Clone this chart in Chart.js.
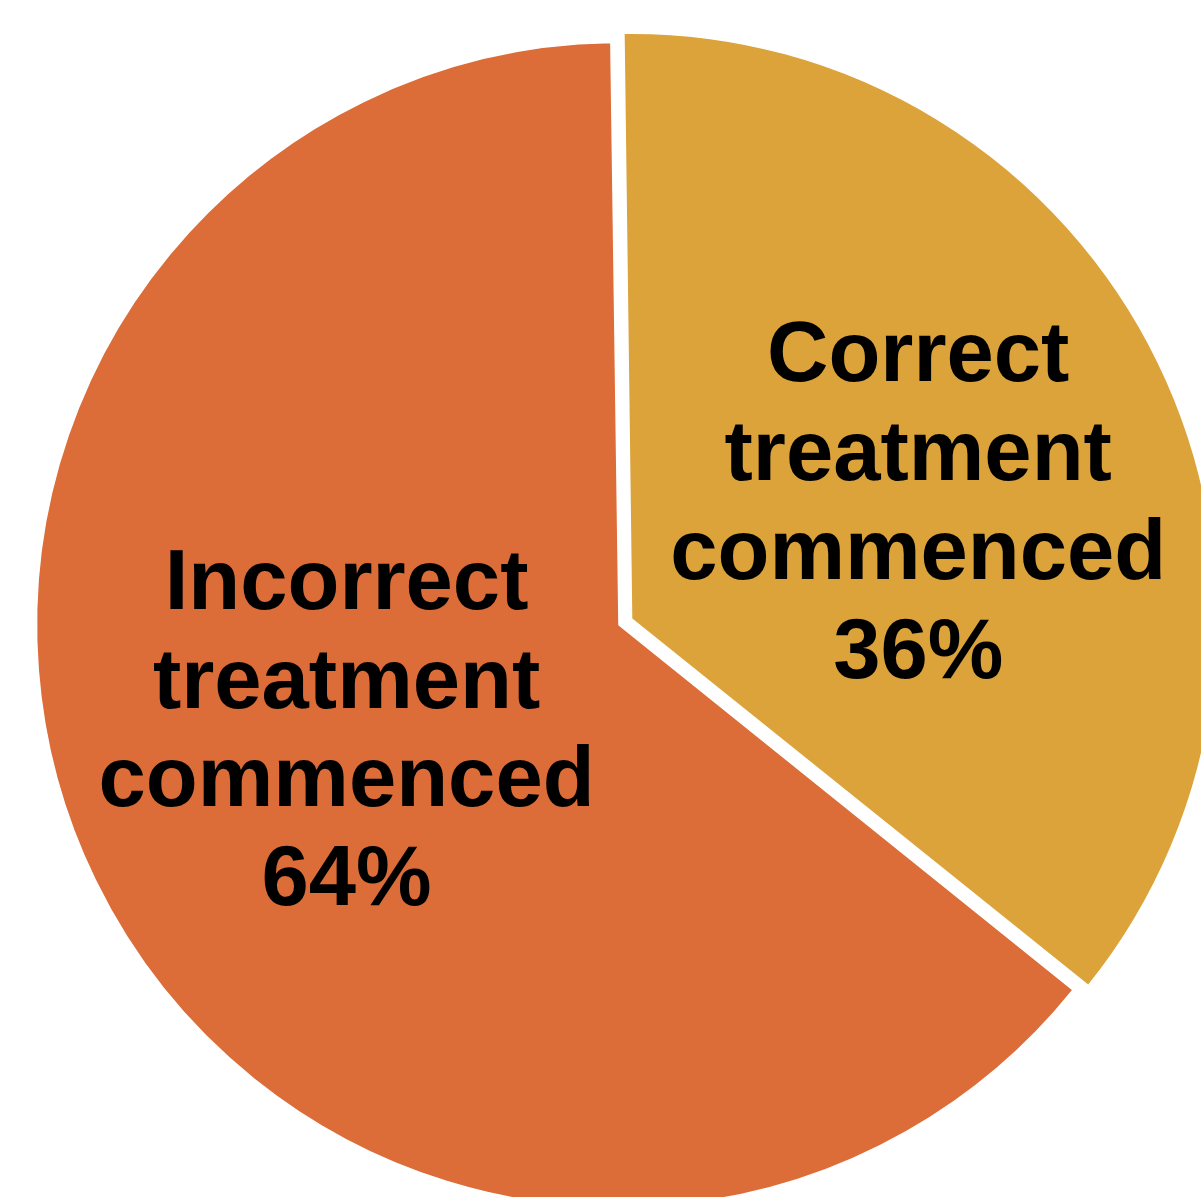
<!DOCTYPE html>
<html>
<head>
<meta charset="utf-8">
<script src="https://cdn.jsdelivr.net/npm/chart.js@4/dist/chart.umd.min.js"></script>
<style>
  html, body { margin:0; padding:0; background:#fff; width:1201px; height:1197px; overflow:hidden; position:relative; }
  #wrap { position:absolute; left:-6px; top:0px; width:1250px; height:1250px; }
</style>
</head>
<body>
<div id="wrap"><canvas id="c" width="1250" height="1250"></canvas></div>
<script>
const categories = ["Correct treatment commenced", "Incorrect treatment commenced"];
const labelLines = [["Correct", "treatment", "commenced"], ["Incorrect", "treatment", "commenced"]];
const values = [36, 64];
const colors = ["#DBA33A", "#DC6C38"];
const offsets = [56, 0];

const labelPlugin = {
  id: 'sliceLabels',
  afterDatasetsDraw(chart, args, opts) {
    const ctx = chart.ctx;
    const meta = chart.getDatasetMeta(0);
    const total = values.reduce((a, b) => a + b, 0);
    meta.data.forEach((arc, i) => {
      const p = arc.getProps(['x', 'y', 'startAngle', 'endAngle', 'outerRadius'], true);
      const half = (p.startAngle + p.endAngle) / 2;
      const shift = (offsets[i] || 0) / 4;
      const cx = p.x + Math.cos(half) * shift;
      const cy = p.y + Math.sin(half) * shift;
      const a = opts.anchors[i];
      const ang = half + a.dAngle * Math.PI / 180;
      const lx = cx + Math.cos(ang) * p.outerRadius * a.frac;
      const ly = cy + Math.sin(ang) * p.outerRadius * a.frac;
      const lines = labelLines[i].concat([Math.round(values[i] / total * 100) + '%']);
      ctx.save();
      ctx.fillStyle = '#000';
      ctx.font = 'bold 85px "Liberation Sans", Arial, sans-serif';
      ctx.textAlign = 'center';
      ctx.textBaseline = 'alphabetic';
      const lh = opts.lineHeight;
      const mid = ly + opts.capHalf;
      lines.forEach((t, k) => {
        ctx.fillText(t, lx, mid + (k - (lines.length - 1) / 2) * lh);
      });
      ctx.restore();
    });
  }
};

new Chart(document.getElementById('c'), {
  type: 'pie',
  data: {
    labels: categories,
    datasets: [{
      data: values,
      backgroundColor: colors,
      borderColor: '#ffffff',
      borderWidth: 1.5,
      offset: offsets
    }]
  },
  options: {
    responsive: false,
    animation: false,
    rotation: -0.8,
    radius: 582.5,
    layout: { padding: 0 },
    events: [],
    plugins: {
      legend: { display: false },
      tooltip: { enabled: false },
      sliceLabels: {
        anchors: [ { frac: 0.533, dAngle: 3.4 }, { frac: 0.4993, dAngle: 5.5 } ],
        lineHeight: 98.7,
        capHalf: 30
      }
    }
  },
  plugins: [labelPlugin]
});
</script>
</body>
</html>
